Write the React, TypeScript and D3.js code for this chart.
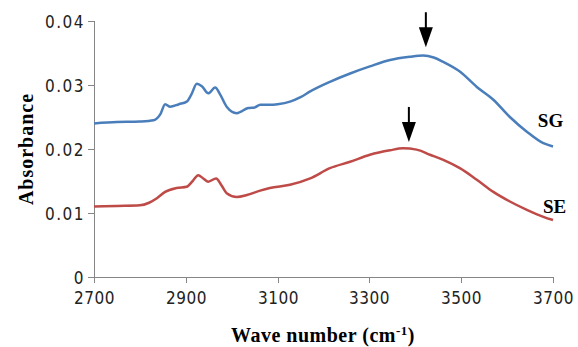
import { useEffect, useRef } from "react"
import * as d3 from "d3"

// wave number (cm-1) / absorbance
const SG_WN = [2700, 2750, 2800, 2830, 2845, 2855, 2866, 2885, 2902, 2912, 2924, 2935, 2949, 2964, 2975, 2989, 3011, 3036, 3050, 3062, 3083, 3100, 3127, 3150, 3171, 3214, 3258, 3301, 3345, 3388, 3417, 3440, 3461, 3497, 3534, 3570, 3606, 3643, 3679, 3700]
const SG_ABS = [0.0240, 0.0242, 0.0243, 0.0245, 0.0255, 0.0270, 0.0266, 0.0270, 0.0274, 0.0285, 0.0302, 0.0298, 0.0287, 0.0296, 0.0285, 0.0266, 0.0256, 0.0264, 0.0265, 0.0269, 0.0269, 0.0270, 0.0274, 0.0281, 0.0290, 0.0305, 0.0318, 0.0329, 0.0339, 0.0344, 0.0346, 0.0343, 0.0336, 0.0321, 0.0297, 0.0277, 0.0250, 0.0227, 0.0209, 0.0204]

const SE_WN = [2700, 2750, 2800, 2820, 2837, 2855, 2880, 2902, 2915, 2927, 2938, 2949, 2966, 2978, 2989, 3011, 3033, 3062, 3083, 3127, 3171, 3214, 3258, 3301, 3345, 3373, 3403, 3432, 3461, 3497, 3534, 3570, 3606, 3643, 3679, 3700]
const SE_ABS = [0.0110, 0.0111, 0.0112, 0.0116, 0.0123, 0.0133, 0.0139, 0.0141, 0.0150, 0.0159, 0.0154, 0.0149, 0.0154, 0.0143, 0.0131, 0.0125, 0.0128, 0.0135, 0.0139, 0.0144, 0.0154, 0.0170, 0.0180, 0.0191, 0.0198, 0.0201, 0.0199, 0.0191, 0.0183, 0.0170, 0.0152, 0.0133, 0.0118, 0.0105, 0.0094, 0.0089]

const X_TICKS = [2700, 2900, 3100, 3300, 3500, 3700]
const Y_TICKS = [0, 0.01, 0.02, 0.03, 0.04]

// arrows: [wave number, absorbance at tip]
const ARROWS: [number, number][] = [[3423, 0.0359], [3386, 0.0211]]
const LABELS: { text: string; wn: number; abs: number }[] = [
  { text: "SG", wn: 3667, abs: 0.0234 },
  { text: "SE", wn: 3678, abs: 0.0100 },
]

const W = 578
const H = 347
const X0 = 94
const X1 = 553
const Y0 = 277
const Y1 = 21

const BLUE = "#4a7ebb"
const RED = "#be4b48"
const AXIS = "#868686"
const TICK_FONT = "'DejaVu Sans Condensed', 'DejaVu Sans', sans-serif"
const SERIF = "'Liberation Serif', 'Times New Roman', serif"

export default function App() {
  const svgRef = useRef<SVGSVGElement>(null)

  useEffect(() => {
    if (!svgRef.current) return
    const svg = d3.select(svgRef.current)
    svg.selectAll("*").remove()

    const x = d3.scaleLinear().domain([2700, 3700]).range([X0, X1])
    const y = d3.scaleLinear().domain([0, 0.04]).range([Y0, Y1])

    // axes
    svg.append("line").attr("x1", X0 + 0.5).attr("x2", X0 + 0.5).attr("y1", Y1).attr("y2", Y0)
      .attr("stroke", AXIS).attr("stroke-width", 1)
    svg.append("line").attr("x1", X0).attr("x2", X1).attr("y1", Y0 + 0.5).attr("y2", Y0 + 0.5)
      .attr("stroke", AXIS).attr("stroke-width", 1)

    Y_TICKS.forEach((t) => {
      const ty = Math.round(y(t)) + 0.5
      svg.append("line").attr("x1", X0 - 6).attr("x2", X0).attr("y1", ty).attr("y2", ty)
        .attr("stroke", AXIS)
      svg.append("text")
        .attr("x", X0 - 9)
        .attr("y", ty + 6)
        .attr("text-anchor", "end")
        .attr("font-family", TICK_FONT)
        .attr("font-size", 17)
        .attr("letter-spacing", 1.5)
        .attr("fill", "#222")
        .text(t === 0 ? "0" : t.toFixed(2))
    })

    X_TICKS.forEach((t) => {
      const tx = Math.round(x(t)) + 0.5
      svg.append("line").attr("x1", tx).attr("x2", tx).attr("y1", Y0).attr("y2", Y0 + 6)
        .attr("stroke", AXIS)
      svg.append("text")
        .attr("x", tx)
        .attr("y", 304)
        .attr("text-anchor", "middle")
        .attr("font-family", TICK_FONT)
        .attr("font-size", 17)
        .attr("letter-spacing", 0.5)
        .attr("fill", "#222")
        .text(String(t))
    })

    const line = d3.line<[number, number]>()
      .x((d) => x(d[0]))
      .y((d) => y(d[1]))
      .curve(d3.curveMonotoneX)

    const series: [number[], number[], string][] = [
      [SG_WN, SG_ABS, BLUE],
      [SE_WN, SE_ABS, RED],
    ]
    series.forEach(([wn, ab, c]) => {
      svg.append("path")
        .datum(wn.map((w, i) => [w, ab[i]] as [number, number]))
        .attr("d", line)
        .attr("fill", "none")
        .attr("stroke", c)
        .attr("stroke-width", 2.5)
        .attr("stroke-linejoin", "round")
    })

    // arrows
    ARROWS.forEach(([wn, ab]) => {
      const ax = x(wn)
      const tip = y(ab)
      svg.append("line").attr("x1", ax).attr("x2", ax).attr("y1", tip - 35).attr("y2", tip - 15)
        .attr("stroke", "#000").attr("stroke-width", 2)
      svg.append("path")
        .attr("d", `M${ax - 7},${tip - 20} L${ax + 7},${tip - 20} L${ax},${tip} Z`)
        .attr("fill", "#000")
    })

    LABELS.forEach((l) => {
      svg.append("text")
        .attr("x", x(l.wn))
        .attr("y", y(l.abs))
        .attr("font-family", SERIF)
        .attr("font-weight", "bold")
        .attr("font-size", 19)
        .attr("fill", "#000")
        .text(l.text)
    })

    // axis titles
    svg.append("text")
      .attr("transform", `translate(33,149) rotate(-90)`)
      .attr("text-anchor", "middle")
      .attr("font-family", SERIF)
      .attr("font-weight", "bold")
      .attr("font-size", 20)
      .attr("letter-spacing", 1)
      .attr("fill", "#000")
      .text("Absorbance")

    const xt = svg.append("text")
      .attr("x", 323)
      .attr("y", 342)
      .attr("text-anchor", "middle")
      .attr("font-family", SERIF)
      .attr("font-weight", "bold")
      .attr("font-size", 20)
      .attr("letter-spacing", 0.5)
      .attr("fill", "#000")
    xt.append("tspan").text("Wave number (cm")
    xt.append("tspan").attr("dy", -7).attr("font-size", 13).text("-1")
    xt.append("tspan").attr("dy", 7).text(")")
  }, [])

  return (
    <div style={{ position: "absolute", left: 0, top: 0, background: "#fff" }}>
      <svg ref={svgRef} width={W} height={H} style={{ display: "block" }} />
    </div>
  )
}
